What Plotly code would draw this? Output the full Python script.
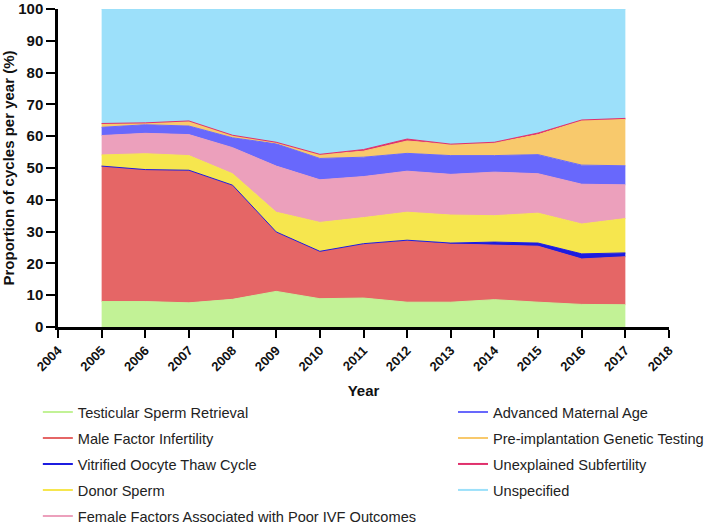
import plotly.graph_objects as go

years = list(range(2005, 2018))

testicular = [8.0, 8.0, 7.6, 8.7, 11.2, 8.9, 9.1, 7.8, 7.8, 8.6, 7.8, 7.1, 7.0]
male_factor = [42.6, 41.5, 41.6, 35.9, 18.7, 14.9, 17.0, 19.3, 18.3, 17.2, 17.6, 14.3, 15.1]
vitrified = [0.0, 0.0, 0.1, 0.0, 0.0, 0.0, 0.1, 0.2, 0.3, 0.9, 1.0, 1.6, 1.2]
donor_sperm = [3.5, 5.0, 4.6, 3.6, 6.2, 9.1, 8.2, 8.8, 8.8, 8.3, 9.4, 9.4, 10.8]
female_factors = [6.1, 6.4, 6.6, 8.2, 14.5, 13.4, 12.9, 12.9, 12.8, 13.7, 12.4, 12.5, 10.6]
maternal_age = [2.6, 2.7, 2.7, 3.1, 7.0, 6.7, 6.1, 5.6, 5.9, 5.2, 6.0, 6.0, 6.0]
pgt = [1.1, 0.5, 1.5, 0.7, 0.3, 1.2, 1.9, 3.9, 3.5, 4.0, 6.3, 14.0, 14.6]
unexplained = [0.1, 0.1, 0.1, 0.1, 0.2, 0.1, 0.5, 0.6, 0.1, 0.2, 0.5, 0.2, 0.3]
top_known = [sum(v) for v in zip(testicular, male_factor, vitrified, donor_sperm,
                                 female_factors, maternal_age, pgt, unexplained)]
unspecified = [round(100 - t, 1) for t in top_known]

series = [
    ("Testicular Sperm Retrieval", testicular, "#c2f296", "legend"),
    ("Male Factor Infertility", male_factor, "#e56666", "legend"),
    ("Vitrified Oocyte Thaw Cycle", vitrified, "#1c1ce0", "legend"),
    ("Donor Sperm", donor_sperm, "#f6e64e", "legend"),
    ("Female Factors Associated with Poor IVF Outcomes", female_factors, "#eca0bc", "legend"),
    ("Advanced Maternal Age", maternal_age, "#6868fc", "legend2"),
    ("Pre-implantation Genetic Testing", pgt, "#f8c96c", "legend2"),
    ("Unexplained Subfertility", unexplained, "#e0306c", "legend2"),
    ("Unspecified", unspecified, "#9ce0fa", "legend2"),
]

fig = go.Figure()
for name, vals, col, _ in series:
    fig.add_trace(go.Scatter(
        x=years, y=vals, name=name, stackgroup="one", mode="lines",
        line=dict(color=col, width=1), fillcolor=col, showlegend=False,
    ))

for i, (name, vals, col, lg) in enumerate(series):
    fig.add_trace(go.Scatter(
        x=[None], y=[None], name=name, mode="lines",
        line=dict(color=col, width=2), legend=lg, legendgroup=f"g{i}",
        showlegend=True,
    ))

legend_common = dict(
    orientation="v", yanchor="top", xanchor="left",
    font=dict(family="Liberation Sans, Arial, sans-serif", size=14.6, color="#222"),
    bgcolor="rgba(0,0,0,0)", traceorder="grouped", tracegroupgap=4,
)

fig.update_layout(
    width=709, height=524,
    margin=dict(l=58, r=40, t=9, b=197, autoexpand=False),
    plot_bgcolor="white", paper_bgcolor="white",
    font=dict(family="Liberation Sans, Arial, sans-serif", color="#111"),
    xaxis=dict(
        range=[2004, 2018], tickmode="array", tickvals=list(range(2004, 2019)),
        tickangle=-45, ticks="outside", ticklen=8, tickwidth=2, tickcolor="black",
        showline=True, linecolor="black", linewidth=2.5, showgrid=False, zeroline=False,
        automargin=False,
        tickfont=dict(size=13, family="Liberation Sans, Arial, sans-serif", weight="bold", color="#111"),
        title=dict(text="<b>Year</b>", font=dict(size=15), standoff=13),
    ),
    yaxis=dict(
        range=[0, 100], tickmode="array", tickvals=list(range(0, 101, 10)),
        ticks="outside", ticklen=9, tickwidth=2, tickcolor="black",
        showline=True, linecolor="black", linewidth=2.5, showgrid=False, zeroline=False,
        automargin=False,
        tickfont=dict(size=15, family="Liberation Sans, Arial, sans-serif", weight="bold", color="#111"),
        title=dict(text="<b>Proportion of cycles per year (%)</b>", font=dict(size=15), standoff=6),
    ),
    legend=dict(x=-0.033, y=-0.217, **legend_common),
    legend2=dict(x=0.6465, y=-0.217, **legend_common),
)

fig.write_html("out.html")
